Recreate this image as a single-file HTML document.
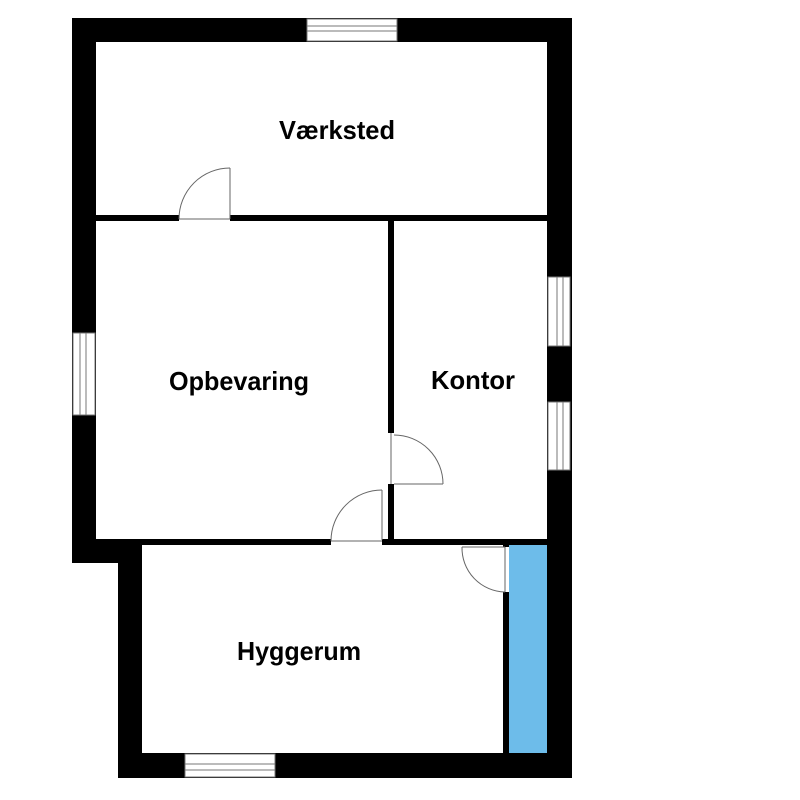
<!DOCTYPE html>
<html><head><style>html,body{margin:0;padding:0;background:#fff}svg{display:block}</style></head>
<body>
<svg width="800" height="800" viewBox="0 0 800 800" xmlns="http://www.w3.org/2000/svg">
<rect width="800" height="800" fill="#fff"/>
<rect x="72" y="18" width="499" height="24" fill="#000"/>
<rect x="72" y="18" width="24" height="545" fill="#000"/>
<rect x="72" y="539" width="70" height="24" fill="#000"/>
<rect x="118" y="539" width="24" height="239" fill="#000"/>
<rect x="118" y="753" width="454" height="25" fill="#000"/>
<rect x="547" y="18" width="25" height="760" fill="#000"/>
<rect x="509" y="545" width="38" height="208" fill="#6dbcea"/>
<rect x="96" y="215" width="83" height="6" fill="#000"/>
<rect x="230" y="215" width="317" height="6" fill="#000"/>
<rect x="388" y="221" width="6" height="212" fill="#000"/>
<rect x="388" y="484" width="6" height="61" fill="#000"/>
<rect x="142" y="539" width="189" height="6" fill="#000"/>
<rect x="382" y="539" width="165" height="6" fill="#000"/>
<rect x="503" y="592" width="6" height="161" fill="#000"/>
<rect x="503" y="545" width="6" height="2" fill="#000"/>
<g fill="#fff" stroke="#777" stroke-width="1">
<rect x="307" y="19" width="90" height="22"/>
<line x1="307" y1="26" x2="397" y2="26"/><line x1="307" y1="31" x2="397" y2="31"/>
<rect x="185" y="754" width="90" height="23"/>
<line x1="185" y1="764" x2="275" y2="764"/><line x1="185" y1="770" x2="275" y2="770"/>
<rect x="73" y="333" width="22" height="82"/>
<line x1="80" y1="333" x2="80" y2="415"/><line x1="86" y1="333" x2="86" y2="415"/>
<rect x="548" y="277" width="22" height="69"/>
<line x1="557" y1="277" x2="557" y2="346"/><line x1="563" y1="277" x2="563" y2="346"/>
<rect x="548" y="402" width="22" height="68"/>
<line x1="557" y1="402" x2="557" y2="470"/><line x1="563" y1="402" x2="563" y2="470"/>
</g>
<g fill="none" stroke="#666" stroke-width="1">
<line x1="230" y1="168" x2="230" y2="219"/><path d="M230 168 A51 51 0 0 0 179 219"/><line x1="179" y1="219" x2="230" y2="219"/>
<line x1="382" y1="490" x2="382" y2="540"/><path d="M382 490 A51 51 0 0 0 331 541"/><line x1="331" y1="541" x2="382" y2="541"/>
<line x1="394" y1="484" x2="443" y2="484"/><path d="M443 484 A49 49 0 0 0 394 435"/><line x1="391" y1="433" x2="391" y2="484"/>
<line x1="505" y1="547" x2="505" y2="592"/><path d="M505 592 A44 44 0 0 1 462 547"/><line x1="462" y1="547" x2="505" y2="547"/>
</g>
<g font-family="Liberation Sans, sans-serif" font-weight="bold" font-size="26" text-anchor="middle">
<text x="337" y="139" textLength="116" lengthAdjust="spacingAndGlyphs">Værksted</text>
<text x="239" y="390" textLength="140" lengthAdjust="spacingAndGlyphs">Opbevaring</text>
<text x="473" y="389" textLength="84" lengthAdjust="spacingAndGlyphs">Kontor</text>
<text x="299" y="660" textLength="124" lengthAdjust="spacingAndGlyphs">Hyggerum</text>
</g>
</svg>
</body></html>
